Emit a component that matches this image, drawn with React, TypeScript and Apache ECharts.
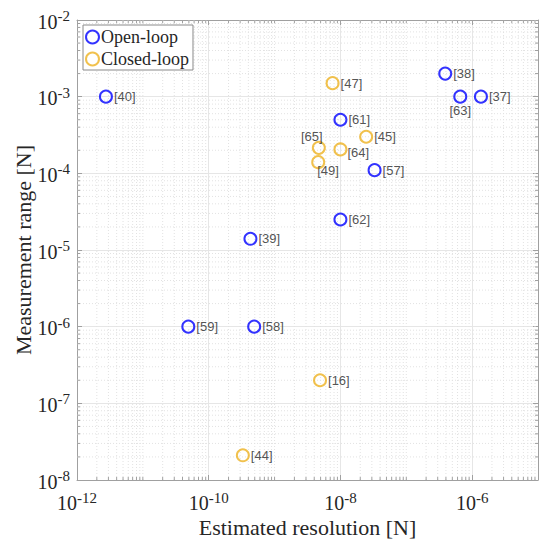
import React, { useEffect, useRef } from 'react';
import * as echarts from 'echarts';

// Open-loop sensors: estimated resolution [N] vs measurement range [N]
const openLabels = ['[40]', '[38]', '[63]', '[37]', '[61]', '[57]', '[62]', '[39]', '[59]', '[58]'];
const openResolution = [2.75e-12, 3.9e-7, 6.6e-7, 1.36e-6, 1.0e-8, 3.3e-8, 1.0e-8, 4.3e-10, 4.9e-11, 4.9e-10];
const openRange = [1e-3, 2e-3, 1e-3, 1e-3, 5e-4, 1.1e-4, 2.5e-5, 1.4e-5, 1e-6, 1e-6];

// Closed-loop sensors
const closedLabels = ['[47]', '[45]', '[65]', '[64]', '[49]', '[16]', '[44]'];
const closedResolution = [7.6e-9, 2.46e-8, 4.7e-9, 1.0e-8, 4.6e-9, 4.9e-9, 3.3e-10];
const closedRange = [1.5e-3, 3.0e-4, 2.15e-4, 2.05e-4, 1.4e-4, 2.0e-7, 2.1e-8];

const seriesNames = ['Open-loop', 'Closed-loop'];
const xName = 'Estimated resolution [N]';
const yName = 'Measurement range [N]';

const X_MIN = 1e-12;
const X_MAX = 1e-5;
const Y_MIN = 1e-8;
const Y_MAX = 1e-2;

// minor grid / tick positions
const xMinor: number[] = [];
for (let e = -12; e <= -6; e++) {
  for (let m = 1; m <= 9; m++) {
    if (m === 1 && e % 2 === 0) continue;
    xMinor.push(m * Math.pow(10, e));
  }
}
const yMinor: number[] = [];
for (let e = -8; e <= -3; e++) {
  for (let m = 2; m <= 9; m++) yMinor.push(m * Math.pow(10, e));
}

const SERIF = "'Liberation Serif', 'Times New Roman', serif";
const SANS = "'Liberation Sans', Arial, sans-serif";
const TXT = '#262626';
const AXIS = '#a0a0a0';
const BLUE = '#0000ff';
const ORANGE = '#edb120';

const labelPlacement: Record<string, any> = {
  '[63]': { position: 'bottom', distance: 0 },
  '[65]': { position: 'top', distance: 0, offset: [-7, 2] },
  '[49]': { position: 'right', distance: 1, offset: [-9, 8] },
  '[64]': { position: 'right', distance: 1, offset: [-1, 3] },
};

const fmt = (v: number) => {
  const e = Math.round(Math.log10(v));
  return `{b|10}{s|${e}}`;
};
const rich = {
  b: { fontFamily: SERIF, fontSize: 20, color: TXT, lineHeight: 26, verticalAlign: 'middle' },
  s: { fontFamily: SERIF, fontSize: 15, color: TXT, lineHeight: 12, verticalAlign: 'top' },
};

function makeData(labels: string[], xs: number[], ys: number[]) {
  return labels.map((name, i) => ({
    name,
    value: [xs[i], ys[i]],
    label: { show: true, formatter: name, ...(labelPlacement[name] || { position: 'right', distance: 1 }) },
  }));
}

export default function App() {
  const ref = useRef<HTMLDivElement>(null);
  useEffect(() => {
    if (!ref.current) return;
    const chart = echarts.init(ref.current, undefined, { renderer: 'svg' });
    const baseAxis = {
      type: 'log',
      logBase: 10,
      axisLine: { show: true, lineStyle: { color: AXIS, width: 1 } },
      axisTick: { show: true, inside: true, length: 5, lineStyle: { color: AXIS } },
    };
    const option: any = {
      animation: false,
      backgroundColor: '#ffffff',
      grid: { left: 77, top: 20, width: 461, height: 460, containLabel: false, outerBoundsMode: 'none' },
      legend: {
        data: seriesNames,
        orient: 'vertical',
        left: 83,
        top: 25,
        padding: [2, 4, 1, 2],
        itemGap: 2,
        itemWidth: 13,
        itemHeight: 13,
        backgroundColor: '#ffffff',
        borderColor: '#8a8a8a',
        borderWidth: 1,
        borderRadius: 0,
        textStyle: { fontFamily: SERIF, fontSize: 18, color: TXT, lineHeight: 20, padding: [0, 0, 0, -3] },
        itemStyle: { borderWidth: 2 },
      },
      xAxis: [
        {
          ...baseAxis,
          position: 'bottom',
          min: X_MIN,
          max: X_MAX,
          interval: 2,
          name: xName,
          nameLocation: 'middle',
          nameGap: 36,
          nameMoveOverlap: false,
          nameTextStyle: { fontFamily: SERIF, fontSize: 22, color: TXT },
          axisLabel: { show: true, margin: 10, formatter: fmt, rich, showMaxLabel: false },
          splitLine: { show: true, lineStyle: { color: '#e6e6e6', width: 1 } },
        },
        {
          ...baseAxis,
          position: 'top',
          min: X_MIN,
          max: X_MAX,
          interval: 2,
          axisLabel: { show: false },
          splitLine: { show: false },
        },
      ],
      yAxis: [
        {
          ...baseAxis,
          position: 'left',
          min: Y_MIN,
          max: Y_MAX,
          interval: 1,
          name: yName,
          nameLocation: 'middle',
          nameGap: 43,
          nameMoveOverlap: false,
          nameRotate: 90,
          nameTextStyle: { fontFamily: SERIF, fontSize: 22, color: TXT },
          axisLabel: { show: true, margin: 7, formatter: fmt, rich, padding: [3, 0, 0, 0] },
          splitLine: { show: true, lineStyle: { color: '#e6e6e6', width: 1 } },
        },
        {
          ...baseAxis,
          position: 'right',
          min: Y_MIN,
          max: Y_MAX,
          interval: 1,
          axisLabel: { show: false },
          splitLine: { show: false },
        },
      ],
      series: [
        {
          type: 'custom',
          name: 'xminor',
          xAxisIndex: 0,
          yAxisIndex: 0,
          z: 1,
          silent: true,
          data: xMinor.map((v) => [v, Y_MIN]),
          renderItem: (params: any, api: any) => {
            const v = api.value(0);
            const p1 = api.coord([v, Y_MIN]);
            const p2 = api.coord([v, Y_MAX]);
            return {
              type: 'group',
              children: [
                { type: 'line', shape: { x1: p1[0], y1: p1[1], x2: p2[0], y2: p2[1] }, style: { stroke: '#e2e2e2', lineWidth: 1, lineDash: [1, 2] } },
                { type: 'line', shape: { x1: p1[0], y1: p1[1], x2: p1[0], y2: p1[1] - 3 }, style: { stroke: AXIS, lineWidth: 1 } },
                { type: 'line', shape: { x1: p2[0], y1: p2[1], x2: p2[0], y2: p2[1] + 3 }, style: { stroke: AXIS, lineWidth: 1 } },
              ],
            };
          },
        },
        {
          type: 'custom',
          name: 'yminor',
          xAxisIndex: 0,
          yAxisIndex: 0,
          z: 1,
          silent: true,
          data: yMinor.map((v) => [X_MIN, v]),
          renderItem: (params: any, api: any) => {
            const v = api.value(1);
            const p1 = api.coord([X_MIN, v]);
            const p2 = api.coord([X_MAX, v]);
            return {
              type: 'group',
              children: [
                { type: 'line', shape: { x1: p1[0], y1: p1[1], x2: p2[0], y2: p2[1] }, style: { stroke: '#e2e2e2', lineWidth: 1, lineDash: [1, 2] } },
                { type: 'line', shape: { x1: p1[0], y1: p1[1], x2: p1[0] + 3, y2: p1[1] }, style: { stroke: AXIS, lineWidth: 1 } },
                { type: 'line', shape: { x1: p2[0], y1: p2[1], x2: p2[0] - 3, y2: p2[1] }, style: { stroke: AXIS, lineWidth: 1 } },
              ],
            };
          },
        },
        {
          type: 'scatter',
          name: seriesNames[0],
          z: 5,
          symbol: 'circle',
          symbolSize: 12,
          itemStyle: { color: 'rgba(255,255,255,0)', borderColor: BLUE, borderWidth: 2 },
          label: { fontFamily: SANS, fontSize: 13, color: TXT },
          data: makeData(openLabels, openResolution, openRange),
        },
        {
          type: 'scatter',
          name: seriesNames[1],
          z: 5,
          symbol: 'circle',
          symbolSize: 12,
          itemStyle: { color: 'rgba(255,255,255,0)', borderColor: ORANGE, borderWidth: 2 },
          label: { fontFamily: SANS, fontSize: 13, color: TXT },
          data: makeData(closedLabels, closedResolution, closedRange),
        },
      ],
    };
    chart.setOption(option);
    return () => chart.dispose();
  }, []);
  return <div ref={ref} style={{ position: 'fixed', left: 0, top: 0, width: 539, height: 542 }} />;
}
